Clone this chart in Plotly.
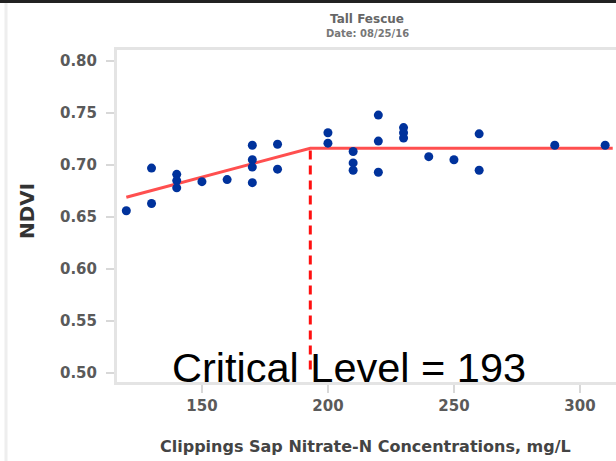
import plotly.graph_objects as go

# ---- data ----
nitrate = [120, 130, 130, 140, 140, 140, 150, 160, 170, 170, 170, 170, 180, 180,
           200, 200, 210, 210, 210, 220, 220, 220, 230, 230, 230, 240, 250, 260, 260, 290, 310]
ndvi = [0.656, 0.697, 0.663, 0.691, 0.685, 0.678, 0.684, 0.686, 0.719, 0.705, 0.698, 0.683,
        0.720, 0.696, 0.731, 0.721, 0.713, 0.702, 0.695, 0.748, 0.723, 0.693, 0.736, 0.731,
        0.726, 0.708, 0.705, 0.730, 0.695, 0.719, 0.719]

fit_x = [120, 193, 313]
fit_y = [0.669, 0.716, 0.716]

critical_x = [193, 193]
critical_y = [0.714, 0.501]

x_ticks = [150, 200, 250, 300]
y_ticks = [0.50, 0.55, 0.60, 0.65, 0.70, 0.75, 0.80]

title_line1 = "Tall Fescue"
title_line2 = "Date: 08/25/16"
x_title = "Clippings Sap Nitrate-N Concentrations, mg/L"
y_title = "NDVI"
critical_label = "Critical Level = 193"

W, H = 616, 461
L, R, T, B = 117, 0, 50, 79

fig = go.Figure()
fig.add_trace(go.Scatter(x=fit_x, y=fit_y, mode="lines",
                         line=dict(color="#ff4f4f", width=3), hoverinfo="skip"))
fig.add_trace(go.Scatter(x=critical_x, y=critical_y, mode="lines",
                         line=dict(color="#ff1010", width=3, dash="9px,6px"), hoverinfo="skip"))
fig.add_trace(go.Scatter(x=nitrate, y=ndvi, mode="markers", cliponaxis=False,
                         marker=dict(color="#00329c", size=9, line=dict(width=0))))

tickfont = dict(family="DejaVu Sans", size=15, color="#5a5a5a", weight="bold")

fig.update_layout(
    width=W, height=H,
    margin=dict(l=L, r=R, t=T, b=B, pad=0),
    paper_bgcolor="white", plot_bgcolor="white",
    showlegend=False,
    xaxis=dict(range=[116.3, 314.3], tickvals=x_ticks, ticktext=[str(v) for v in x_ticks],
               showgrid=False, zeroline=False, showline=True, mirror=True,
               linecolor="#e4e4e4", linewidth=3, ticks="outside", ticklen=8, tickwidth=2,
               tickcolor="#d8d8d8", tickfont=tickfont),
    yaxis=dict(range=[0.4913, 0.8106], tickvals=y_ticks,
               ticktext=["%.2f" % v for v in y_ticks],
               showgrid=False, zeroline=False, showline=True, mirror=False,
               linecolor="#e4e4e4", linewidth=3, ticks="outside", ticklen=8, tickwidth=2,
               tickcolor="#d8d8d8", tickfont=tickfont, ticklabelstandoff=6),
)

def px_x(px):
    return (px - L) / (W - L - R)

def px_y(py):
    return (H - B - py) / (H - T - B)

annos = [
    dict(text=title_line1, x=px_x(367), y=px_y(19), font=dict(family="DejaVu Sans", size=12, color="#666666", weight="bold")),
    dict(text=title_line2, x=px_x(367), y=px_y(33), font=dict(family="DejaVu Sans", size=10, color="#777777", weight="bold")),
    dict(text=x_title, x=px_x(365), y=px_y(446), font=dict(family="DejaVu Sans", size=16, color="#444444", weight="bold")),
    dict(text=y_title, x=px_x(27), y=px_y(211), textangle=-90, font=dict(family="DejaVu Sans", size=20, color="#333333", weight="bold")),
    dict(text=critical_label, x=px_x(349), y=px_y(367), font=dict(family="Liberation Sans", size=41.5, color="#000000")),
]
for a in annos:
    a.update(xref="paper", yref="paper", showarrow=False, xanchor="center", yanchor="middle")
    fig.add_annotation(**a)

# outer frame lines
fig.add_shape(type="line", xref="paper", yref="paper", x0=px_x(0), x1=px_x(W), y0=px_y(1.5), y1=px_y(1.5),
              line=dict(color="#222222", width=3))
fig.add_shape(type="line", xref="paper", yref="paper", x0=px_x(6), x1=px_x(6), y0=px_y(3), y1=px_y(H),
              line=dict(color="#eeeeee", width=3))

fig.write_html("out.html", config={"displayModeBar": False},
               post_script="document.body.style.margin='0';document.body.style.padding='0';")
